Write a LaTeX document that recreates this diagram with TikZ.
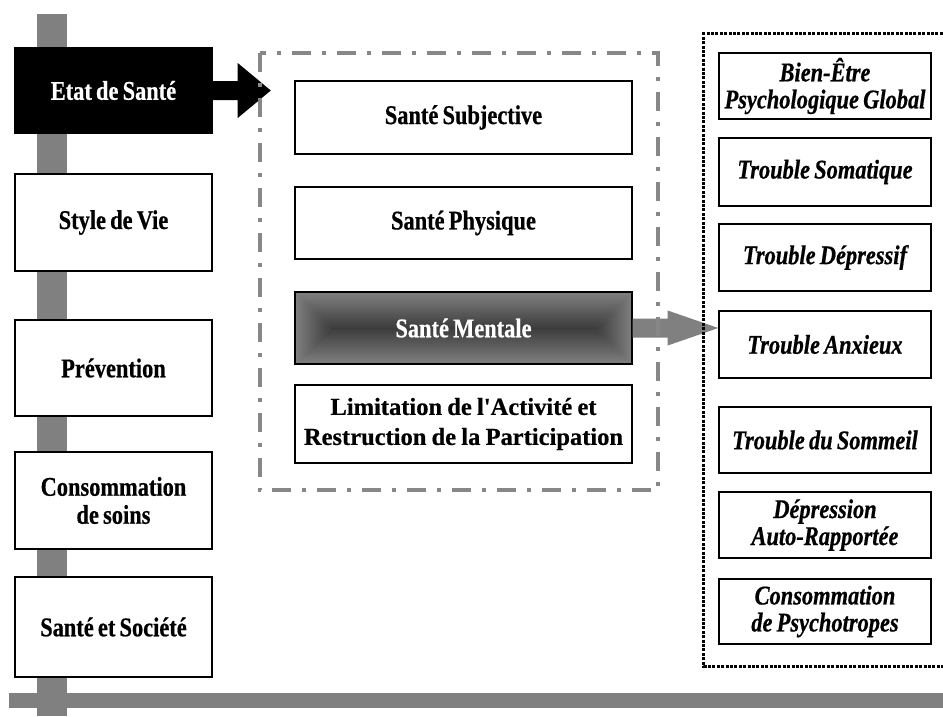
\documentclass[tikz,border=0pt]{standalone}
\usepackage{fontspec}
\newfontfamily\tnr[FakeStretch=0.83,WordSpace=0.75,FakeBold=0.6]{Liberation Serif}
\newfontfamily\tnrw[WordSpace=0.85,FakeBold=0.6]{Liberation Serif}
\usetikzlibrary{calc}
\definecolor{barg}{HTML}{808080}
\definecolor{dashg}{HTML}{878787}
\definecolor{mdark}{HTML}{3C3C3C}
\tikzset{
 base/.style={inner sep=0pt, align=center, line width=1.4pt},
 lbox/.style={base, draw, fill=white, minimum width=197pt, font=\tnr\bfseries\fontsize{27}{28}\selectfont},
 mbox/.style={base, draw, fill=white, minimum width=337pt, font=\tnr\bfseries\fontsize{27}{30}\selectfont},
 rbox/.style={base, draw, fill=white, minimum width=212pt, font=\tnr\bfseries\itshape\fontsize{27}{27}\selectfont},
 bar/.style={fill=barg},
 grpline/.style={draw=dashg, line width=4pt, dash pattern=on 19pt off 11pt on 4pt off 11pt},
 rgrpline/.style={draw=black, line width=3pt, dash pattern=on 3pt off 1.4pt},
}
\begin{document}
\begin{tikzpicture}[x=1pt,y=-1pt]
\useasboundingbox (0,0) rectangle (943,716);
% gray bars
\fill[bar] (37,14) rectangle (67,716);
\fill[bar] (9,693) rectangle (945,708);
% groups (outlines drawn later)
\node[minimum width=398pt, minimum height=437pt, inner sep=0pt] (grp) at (459,271.5) {};
\node[minimum width=243pt, minimum height=632pt, inner sep=0pt] (rg) at (825.5,350) {};
% left column
\node[lbox, fill=black, text=white, minimum height=85pt] (etat) at (113.5,90.5) {Etat de Santé};
\node[lbox, minimum height=97pt] (style) at (113.5,222.5) {Style de Vie};
\node[lbox, minimum height=96pt] (prev) at (113.5,368) {Prévention};
\node[lbox, minimum height=97pt] (conso) at (113.5,500.5) {Consommation\\de soins};
\node[lbox, minimum height=100pt] (soc) at (113.5,627) {Santé et Société};
% black arrow
\fill[black] ($(etat.east)+(0,-9.5)$) -- ($(etat.east)+(25,-9.5)$) -- ($(etat.east)+(25,-27.5)$)
  -- ($(grp.west |- etat.east)+(11,0)$) -- ($(etat.east)+(25,27.5)$) -- ($(etat.east)+(25,9.5)$)
  -- ($(etat.east)+(0,9.5)$) -- cycle;
% middle column
\node[mbox, minimum height=73pt] (subj) at (463.5,117.5) {Santé Subjective};
\node[mbox, minimum height=72pt] (phys) at (463.5,223) {Santé Physique};
\node[mbox, minimum height=72pt, fill=barg, text=white,
  path picture={
   \coordinate (pnw) at (path picture bounding box.north west);
   \coordinate (pne) at (path picture bounding box.north east);
   \coordinate (psw) at (path picture bounding box.south west);
   \coordinate (pse) at (path picture bounding box.south east);
   \coordinate (pw) at (path picture bounding box.west);
   \coordinate (pe) at (path picture bounding box.east);
   \shade[top color=barg, bottom color=mdark] (pnw) -- (pne) -- ($(pe)+(-36,0)$) -- ($(pw)+(36,0)$) -- cycle;
   \shade[top color=mdark, bottom color=barg] (psw) -- (pse) -- ($(pe)+(-36,0)$) -- ($(pw)+(36,0)$) -- cycle;
   \shade[left color=barg, right color=mdark] (pnw) -- ($(pw)+(36,0)$) -- (psw) -- cycle;
   \shade[left color=mdark, right color=barg] (pne) -- ($(pe)+(-36,0)$) -- (pse) -- cycle;
  }] (ment) at (463.5,328) {Santé Mentale};
\node[mbox, minimum height=78pt, font=\tnrw\bfseries\fontsize{24.5}{30}\selectfont] (lim) at (463.5,424) {Limitation de l'Activité et\\Restruction de la Participation};
% right column
\node[rbox, minimum height=66pt] (bien) at (825,86) {Bien-Être\\Psychologique Global};
\node[rbox, minimum height=68pt] (soma) at (825,172) {Trouble Somatique};
\node[rbox, minimum height=67pt] (dep) at (825,257.5) {Trouble Dépressif};
\node[rbox, minimum height=67pt] (anx) at (825,344.5) {Trouble Anxieux};
\node[rbox, minimum height=66pt] (som) at (825,440) {Trouble du Sommeil};
\node[rbox, minimum height=66pt] (depr) at (825,525) {Dépression\\Auto-Rapportée};
\node[rbox, minimum height=65pt] (psy) at (825,611.5) {Consommation\\de Psychotropes};
% gray arrow
\fill[barg] ($(ment.east)+(0,-9.5)$) -- ($(ment.east)+(35,-9.5)$) -- ($(ment.east)+(35,-17.5)$)
  -- (anx.west |- ment.east) -- ($(ment.east)+(35,17.5)$) -- ($(ment.east)+(35,9.5)$)
  -- ($(ment.east)+(0,9.5)$) -- cycle;
% group outlines
\draw[grpline] (grp.north west) rectangle (grp.south east);
\draw[rgrpline] (rg.north east) -- (rg.north west) -- (rg.south west) -- (rg.south east);
\end{tikzpicture}
\end{document}
